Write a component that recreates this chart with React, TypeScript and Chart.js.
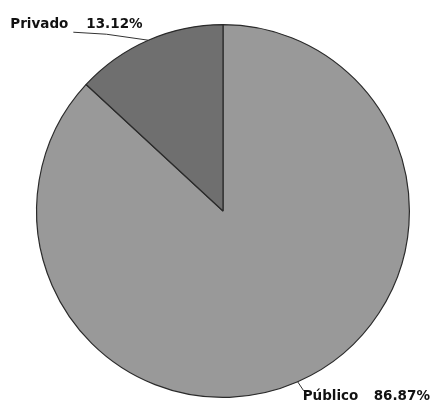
import React, { useEffect, useRef } from "react";
import { Chart, registerables } from "chart.js";

Chart.register(...registerables);

const categories = ["Público", "Privado"];
const values = [86.87, 13.12];
const labelTexts = ["86.87%", "13.12%"];
const colors = ["#999999", "#6f6f6f"];

const labelPlugin = {
  id: "leaderLabels",
  afterDatasetsDraw(chart: any) {
    const ctx = chart.ctx;
    const meta = chart.getDatasetMeta(0);
    ctx.save();
    ctx.font = "bold 13.5px 'DejaVu Sans'";
    ctx.fillStyle = "#111";
    ctx.strokeStyle = "#333";
    ctx.lineWidth = 1;
    ctx.textBaseline = "alphabetic";
    meta.data.forEach((arc: any, i: number) => {
      const mid = (arc.startAngle + arc.endAngle) / 2;
      const ax = arc.x + Math.cos(mid) * arc.outerRadius;
      const ay = arc.y + Math.sin(mid) * arc.outerRadius;
      ctx.beginPath();
      if (ay < arc.y) {
        ctx.moveTo(ax, ay);
        ctx.lineTo(ax - 42, ay - 6);
        ctx.lineTo(ax - 75, ay - 8);
        ctx.stroke();
        ctx.textAlign = "left";
        ctx.fillText(categories[i], ax - 138, ay - 12);
        ctx.fillText(labelTexts[i], ax - 62, ay - 12);
      } else {
        ctx.moveTo(ax, ay);
        ctx.lineTo(ax + 6, ay + 9);
        ctx.stroke();
        ctx.textAlign = "left";
        ctx.fillText(categories[i], ax + 5, ay + 18);
        ctx.fillText(labelTexts[i], ax + 76, ay + 18);
      }
    });
    ctx.restore();
  },
};

export default function App() {
  const ref = useRef<HTMLCanvasElement>(null);
  useEffect(() => {
    if (!ref.current) return;
    const chart = new Chart(ref.current, {
      type: "pie",
      data: {
        labels: categories,
        datasets: [
          {
            data: values,
            backgroundColor: colors,
            borderColor: "#2a2a2a",
            borderWidth: 1.2,
          },
        ],
      },
      options: {
        responsive: true,
        maintainAspectRatio: false,
        animation: false,
        rotation: 0,
        layout: { padding: { top: 24, bottom: 7, left: 36, right: 22 } },
        plugins: { legend: { display: false }, tooltip: { enabled: false } },
      },
      plugins: [labelPlugin],
    });
    return () => chart.destroy();
  }, []);
  return (
    <div style={{ position: "fixed", left: 0, top: 0, width: 432, height: 405, background: "#fff" }}>
      <canvas ref={ref} />
    </div>
  );
}
